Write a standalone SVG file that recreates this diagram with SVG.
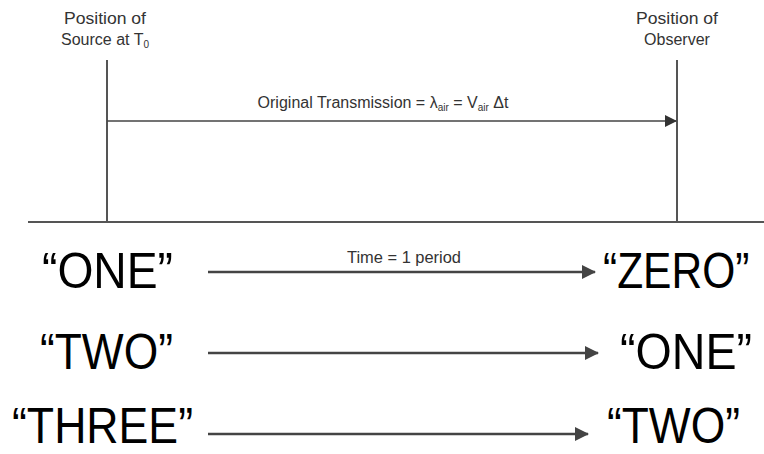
<svg xmlns="http://www.w3.org/2000/svg" width="764" height="454" viewBox="0 0 764 454">
<style>
.lbl{font-family:"Liberation Sans",Arial,sans-serif;font-size:16px;fill:#333;text-anchor:middle}
.big{font-family:"Liberation Sans",Arial,sans-serif;font-size:50px;fill:#000}
.ln{stroke:#555;stroke-width:2;fill:none}
.ar{stroke:#444;stroke-width:2.5;fill:none}
</style>
<defs>
<marker id="ah" markerWidth="12" markerHeight="12" refX="11" refY="6" orient="auto" markerUnits="userSpaceOnUse" viewBox="0 0 12 12">
<path d="M0,0 L12,6 L0,12 z" fill="#333"/>
</marker>
<marker id="ah2" markerWidth="14" markerHeight="14" refX="13" refY="7" orient="auto" markerUnits="userSpaceOnUse" viewBox="0 0 14 14">
<path d="M0,0 L14,7 L0,14 z" fill="#444"/>
</marker>
</defs>
<g id="source">
<text class="lbl" x="105" y="24" textLength="82" lengthAdjust="spacingAndGlyphs">Position of</text>
<text class="lbl" x="105" y="45">Source at T<tspan font-size="10" dy="3">0</tspan></text>
</g>
<g id="observer">
<text class="lbl" x="677" y="24" textLength="82" lengthAdjust="spacingAndGlyphs">Position of</text>
<text class="lbl" x="677" y="45">Observer</text>
</g>
<g id="connectors">
<line class="ln" x1="107" y1="60" x2="107" y2="222"/>
<line class="ln" x1="677" y1="60" x2="677" y2="222"/>
<line class="ln" x1="28" y1="222" x2="764" y2="222"/>
<line stroke="#444" stroke-width="1.5" x1="107" y1="121" x2="676" y2="121" marker-end="url(#ah)"/>
<line class="ar" x1="208" y1="272" x2="595" y2="272" marker-end="url(#ah2)"/>
<line class="ar" x1="208" y1="353" x2="598" y2="353" marker-end="url(#ah2)"/>
<line class="ar" x1="208" y1="434" x2="588" y2="434" marker-end="url(#ah2)"/>
</g>
<g id="transmission-label">
<text class="lbl" x="383" y="108">Original Transmission = λ<tspan font-size="10" dy="3">air</tspan><tspan dy="-3"> = V</tspan><tspan font-size="10" dy="3">air</tspan><tspan dy="-3"> Δt</tspan></text>
</g>
<g id="time-label">
<text class="lbl" x="404" y="263" textLength="114" lengthAdjust="spacingAndGlyphs">Time = 1 period</text>
</g>
<g id="row1">
<text class="big" x="42" y="288" textLength="131" lengthAdjust="spacingAndGlyphs">“ONE”</text>
<text class="big" transform="translate(603,288) scale(0.85,1)" x="0" y="0">“ZERO”</text>
</g>
<g id="row2">
<text class="big" x="40" y="369" textLength="133" lengthAdjust="spacingAndGlyphs">“TWO”</text>
<text class="big" x="620" y="369" textLength="132" lengthAdjust="spacingAndGlyphs">“ONE”</text>
</g>
<g id="row3">
<text class="big" x="12" y="443" font-size="49" textLength="181" lengthAdjust="spacingAndGlyphs">“THREE”</text>
<text class="big" x="607" y="443" font-size="49" textLength="133" lengthAdjust="spacingAndGlyphs">“TWO”</text>
</g>
</svg>
